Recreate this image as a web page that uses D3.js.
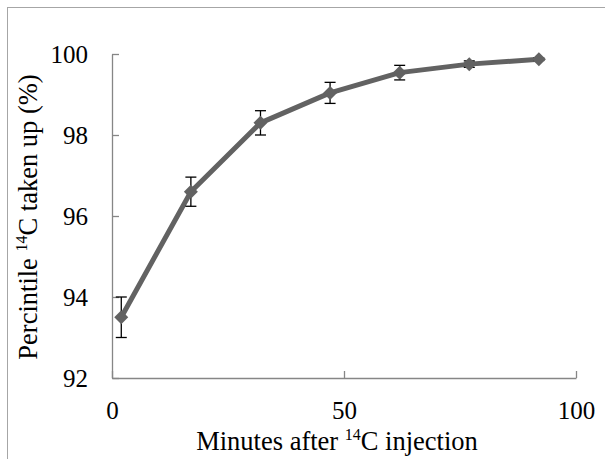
<!DOCTYPE html>
<html>
<head>
<meta charset="utf-8">
<script src="https://cdn.jsdelivr.net/npm/d3@7"></script>
<style>
  body { margin: 0; background: #fff; }
  svg text { font-family: "Liberation Serif", serif; }
</style>
</head>
<body>
<svg width="605" height="459"></svg>
<script>
// data
const minutes = [2, 17, 32, 47, 62, 77, 92];
const uptake = [93.5, 96.6, 98.3, 99.04, 99.54, 99.75, 99.87];
const errors = [0.5, 0.36, 0.3, 0.26, 0.18, 0.08, 0.03];
const xTicks = [0, 50, 100];
const yTicks = [92, 94, 96, 98, 100];

const svg = d3.select('svg');
const margens = { left: 112, right: 29, top: 54, bottom: 81 };
const width = 605 - margens.left - margens.right;
const height = 459 - margens.top - margens.bottom;

// outer frame (only left and top edges are visible)
svg.append('rect')
    .attr('x', 7.5).attr('y', 7.5)
    .attr('width', 700).attr('height', 600)
    .attr('fill', 'none')
    .attr('stroke', '#a6a6a6')
    .attr('stroke-width', 1);

const g = svg.append('g')
    .attr('transform', `translate(${margens.left}, ${margens.top})`);

// ---- Escalas
const mapX = d3.scaleLinear().domain([0, 100]).range([0, width]);
const mapY = d3.scaleLinear().domain([92, 100]).range([height, 0]);

// ---- Eixos
const xAxis = d3.axisBottom(mapX).tickValues(xTicks).tickSizeInner(-7).tickSizeOuter(0).tickPadding(23);
const gx = g.append('g')
    .attr('transform', `translate(0, ${height})`)
    .call(xAxis);

const yAxis = d3.axisLeft(mapY).tickValues(yTicks).tickSizeInner(-7).tickSizeOuter(0).tickPadding(24);
const gy = g.append('g').call(yAxis);

[gx, gy].forEach(ax => {
    ax.attr('font-family', 'Liberation Serif').attr('font-size', 25);
    ax.selectAll('path, line').attr('stroke', '#868686').attr('stroke-width', 1.3);
    ax.selectAll('text').attr('fill', '#000');
});
gx.selectAll('text').attr('dy', '0.71em');
gy.selectAll('text').attr('dy', '0.35em');

// ---- Labels
const xLabel = svg.append('text')
    .attr('x', 337)
    .attr('y', 450)
    .attr('text-anchor', 'middle')
    .attr('font-size', 26.5);
xLabel.append('tspan').text('Minutes after ');
xLabel.append('tspan').attr('dy', -10).attr('font-size', 16).text('14');
xLabel.append('tspan').attr('dy', 10).text('C injection');

const yLabel = svg.append('text')
    .attr('transform', `translate(37, ${margens.top + height / 2 + 1}) rotate(-90)`)
    .attr('text-anchor', 'middle')
    .attr('font-size', 26.5);
yLabel.append('tspan').text('Percintile ');
yLabel.append('tspan').attr('dy', -10).attr('font-size', 16).text('14');
yLabel.append('tspan').attr('dy', 10).text('C taken up (%)');

const data = minutes.map((m, i) => ({ x: m, y: uptake[i], e: errors[i] }));

// ---- Linha
g.append('path')
    .datum(data)
    .attr('fill', 'none')
    .attr('stroke', '#626262')
    .attr('stroke-width', 5)
    .attr('stroke-linejoin', 'round')
    .attr('d', d3.line().x(d => mapX(d.x)).y(d => mapY(d.y)));

// ---- Barras de erro
const errG = g.append('g').attr('stroke', '#000').attr('stroke-width', 1.3);
errG.selectAll('.ev').data(data).join('line')
    .attr('x1', d => mapX(d.x)).attr('x2', d => mapX(d.x))
    .attr('y1', d => mapY(d.y + d.e)).attr('y2', d => mapY(d.y - d.e));
errG.selectAll('.ct').data(data).join('line')
    .attr('x1', d => mapX(d.x) - 5.5).attr('x2', d => mapX(d.x) + 5.5)
    .attr('y1', d => mapY(d.y + d.e)).attr('y2', d => mapY(d.y + d.e));
errG.selectAll('.cb').data(data).join('line')
    .attr('x1', d => mapX(d.x) - 5.5).attr('x2', d => mapX(d.x) + 5.5)
    .attr('y1', d => mapY(d.y - d.e)).attr('y2', d => mapY(d.y - d.e));

// ---- Marcadores
g.selectAll('.mark').data(data).join('path')
    .attr('transform', d => `translate(${mapX(d.x)}, ${mapY(d.y)})`)
    .attr('d', 'M0,-7L7,0L0,7L-7,0Z')
    .attr('fill', '#626262');
</script>
</body>
</html>
